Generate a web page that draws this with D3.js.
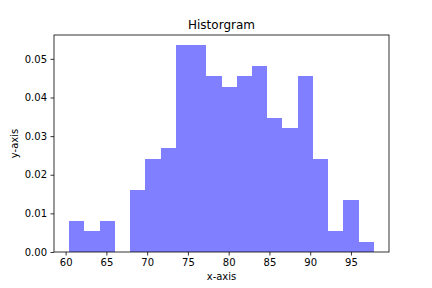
<!DOCTYPE html>
<html><head><meta charset="utf-8">
<script src="https://cdn.jsdelivr.net/npm/d3@7"></script>
<style>body{margin:0;background:#fff}svg{display:block}text{font-family:"DejaVu Sans",sans-serif;fill:#000}</style>
</head><body>
<svg id="c" width="432" height="288"></svg>
<script>
const binEdges = [60.44, 62.31, 64.17, 66.04, 67.91, 69.78, 71.65, 73.52, 75.38, 77.25, 79.12, 80.99, 82.86, 84.72, 86.59, 88.46, 90.33, 92.20, 94.06, 95.93, 97.80];
const density = [0.0080, 0.0054, 0.0080, 0, 0.0161, 0.0241, 0.0268, 0.0535, 0.0535, 0.0455, 0.0428, 0.0455, 0.0482, 0.0348, 0.0321, 0.0455, 0.0241, 0.0054, 0.0134, 0.0027];
const xTicks = [60, 65, 70, 75, 80, 85, 90, 95];
const yTicks = [0, 0.01, 0.02, 0.03, 0.04, 0.05];
const title = "Historgram", xLabel = "x-axis", yLabel = "y-axis";

const svg = d3.select("#c");
const L = 54, R = 389, T = 35, B = 252;
const span = binEdges[binEdges.length-1] - binEdges[0];
const x = d3.scaleLinear().domain([binEdges[0] - 0.05*span, binEdges[binEdges.length-1] + 0.05*span]).range([L, R]);
const y = d3.scaleLinear().domain([0, d3.max(density)*1.05]).range([B, T]);

const bins = density.map((d,i)=>({x0:binEdges[i], x1:binEdges[i+1], v:d}));
svg.append("g").selectAll("rect").data(bins).join("rect")
  .attr("x", d=>x(d.x0)).attr("width", d=>x(d.x1)-x(d.x0))
  .attr("y", d=>y(d.v)).attr("height", d=>y(0)-y(d.v))
  .attr("fill", "#0000ff").attr("fill-opacity", 0.5).attr("shape-rendering","crispEdges");

const xa = svg.append("g").attr("transform", `translate(0,${B})`)
  .call(d3.axisBottom(x).tickValues(xTicks).tickFormat(d3.format("d")).tickSizeInner(3.5).tickSizeOuter(0).tickPadding(3.5));
const ya = svg.append("g").attr("transform", `translate(${L},0)`)
  .call(d3.axisLeft(y).tickValues(yTicks).tickFormat(d3.format(".2f")).tickSizeInner(3.5).tickSizeOuter(0).tickPadding(3.5));
[xa, ya].forEach(a=>{
  a.select(".domain").remove();
  a.selectAll("text").attr("font-size", 10).attr("font-family", "DejaVu Sans").attr("fill", "#000");
  a.selectAll("line").attr("stroke", "#000").attr("stroke-width", 0.8);
});

svg.append("rect").attr("x", L).attr("y", T).attr("width", R-L).attr("height", B-T)
  .attr("fill", "none").attr("stroke", "#000").attr("stroke-width", 0.8);

svg.append("text").attr("x", (L+R)/2).attr("y", T-6).attr("text-anchor", "middle").attr("font-size", 12).text(title);
svg.append("text").attr("x", (L+R)/2).attr("y", 280).attr("text-anchor", "middle").attr("font-size", 10).text(xLabel);
svg.append("text").attr("transform", `translate(18,${(T+B)/2}) rotate(-90)`).attr("text-anchor", "middle").attr("font-size", 10).text(yLabel);
</script>
</body></html>
